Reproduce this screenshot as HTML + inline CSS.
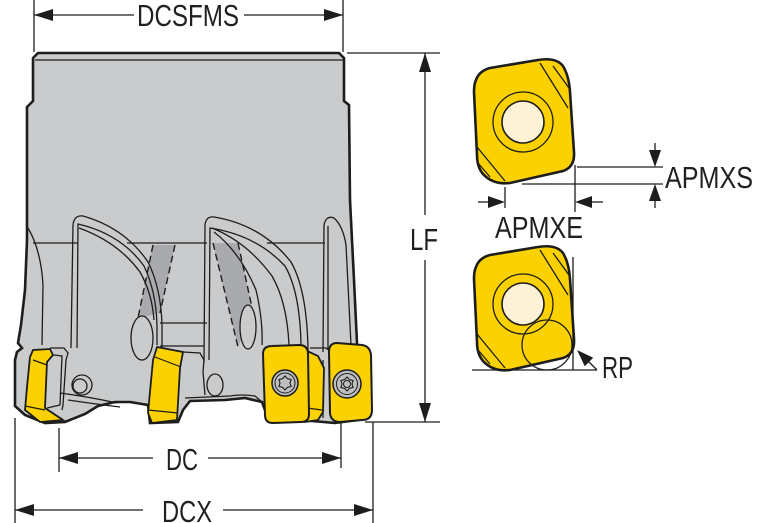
<!DOCTYPE html>
<html><head><meta charset="utf-8"><style>
html,body{margin:0;padding:0;background:#fff;width:767px;height:523px;overflow:hidden}
svg{display:block}
text{font-family:"Liberation Sans",Arial,sans-serif;fill:#231f20}
</style></head><body>
<svg width="767" height="523" viewBox="0 0 767 523" xmlns="http://www.w3.org/2000/svg">
<g stroke="#1d1d1b" fill="none">
<!-- BODY -->
<path d="M38,53 L339,53 L344,58 L344,101 L349,105 L350,200 L354,280 L357,343 L358,420 L335,423 L300,420 L275,420 L265,410 L262,402 L245,398 L225,400 L190,401 L183,410 L178,422 L150,423 L148,405 L130,402 L115,402 L98,406 L85,414 L65,422 L45,423 L25,415 L15,406 L15,360 L17,352 L22,348 L18,343 L21,325 L25,290 L27,240 L27,107 L33,101 L33,58 Z" fill="#c9cbcc" stroke-width="2.6"/>
<line x1="35" y1="60" x2="343" y2="60" stroke-width="1.2"/>
<!-- gray bands -->
<polygon points="153,245 175,245 160,313 138,318" fill="#a8aaad" stroke="none"/>
<polygon points="213,243 238,243 253,312 238,347" fill="#a8aaad" stroke="none"/>
<g stroke-width="1.4" stroke-dasharray="7,4">
<line x1="153" y1="245" x2="138" y2="318"/><line x1="175" y1="245" x2="160" y2="313"/>
<line x1="213" y1="243" x2="238" y2="347"/><line x1="238" y1="243" x2="253" y2="312"/>
</g>
<g stroke-width="1.3">
<path d="M28,228 Q41,250 43,285 L42,345"/>
<line x1="33" y1="243" x2="78" y2="243"/><line x1="127" y1="243" x2="207" y2="243"/><line x1="267" y1="243" x2="325" y2="243"/>
<!-- flute 1 -->
<path d="M71,348 L73,225 Q74,215 83,216 Q125,228 148,262 Q161,288 162,325 L162,362"/>
<path d="M77,348 L78,224 Q121,234 144,266 Q156,291 157,325 L157,345"/>
<path d="M79,228 Q118,242 140,272 Q152,293 154,320"/>
<line x1="160" y1="323" x2="207" y2="323"/><line x1="160" y1="346" x2="204" y2="346"/>
<!-- flute 2 -->
<path d="M204,362 L205,225 Q206,216 214,217 Q262,225 291,262 Q307,290 308,350"/>
<path d="M209,360 L210,228 Q256,235 285,266 Q300,292 301,345"/>
<path d="M212,228 Q247,242 272,276 Q287,302 289,345"/>
<path d="M214,232 Q240,252 256,290 Q263,320 262,345"/>
<!-- flute 3 -->
<path d="M323,352 L324,225 Q326,215 334,218 Q343,226 346,245 L351,345"/>
<line x1="328" y1="226" x2="328" y2="350"/>
<!-- ellipses/holes -->
<ellipse cx="142" cy="338" rx="11" ry="22" fill="#c9cbcc"/>
<ellipse cx="248" cy="327" rx="8" ry="22" fill="#c9cbcc"/>
<circle cx="82" cy="385" r="10"/><circle cx="80" cy="386" r="7"/>
<ellipse cx="215" cy="385" rx="8" ry="11"/>
<!-- pockets & bottom lines -->
<path d="M50,348 L64,348 L68,353 L66,360 L63,405 L62,410"/>
<path d="M54,355 L62,356 L60,405 L47,408"/>
<path d="M60,393 Q90,397 117,403"/>
<path d="M68,400 Q95,404 120,407"/>
<path d="M183,352 L200,353 L204,360 L203,372 L205,395"/>
<path d="M185,398 L230,396 Q242,394 255,396 L262,402"/>
<path d="M310,348 L326,348 L331,352 L331,418"/>
<line x1="323" y1="360" x2="323" y2="418"/>
</g>
<!-- insert 1 -->
<polygon points="33,350 50,349 53,355 47,362 45,408 63,420 40,422 25,410 27,387 30,357" fill="#fcd100" stroke-width="1.8"/>
<line x1="33" y1="360" x2="47" y2="365" stroke-width="1.2"/>
<line x1="25" y1="406" x2="45" y2="410" stroke-width="1.2"/>
<!-- insert 2 -->
<polygon points="157,347 183,352 180,368 177,420 152,423 148,413 153,360" fill="#fcd100" stroke-width="1.8"/>
<line x1="155" y1="357" x2="181" y2="367" stroke-width="1.2"/>
<line x1="148" y1="410" x2="178" y2="413" stroke-width="1.2"/>
<!-- insert 3 facet + insert -->
<path d="M305,350 L318,356 L324,368 L323,412 L318,420 L305,422 Z" fill="#fcd100" stroke-width="1.8"/>
<line x1="307" y1="408" x2="322" y2="410" stroke-width="1.2"/>
<path d="M272,346 L299,345 Q308,345 308,354 L309,414 Q309,422 301,422 L273,423 Q265,423 265,415 L263,354 Q263,346 272,346 Z" fill="#fcd100" stroke-width="2"/>
<circle cx="285" cy="383" r="13" fill="#bdbfc1" stroke-width="1.5"/>
<circle cx="285" cy="383" r="10" stroke-width="1"/>
<polygon points="285,376 287.5,378.7 291.1,379.5 290,383 291.1,386.5 287.5,387.3 285,390 282.5,387.3 278.9,386.5 280,383 278.9,379.5 282.5,378.7" stroke-width="1.1"/>
<!-- insert 4 -->
<path d="M337,343 L362,345 Q370,346 371,355 L372,410 Q372,420 362,420 L340,422 Q331,422 330,413 L329,352 Q329,343 337,343 Z" fill="#fcd100" stroke-width="2"/>
<circle cx="347" cy="384" r="14" fill="#bdbfc1" stroke-width="1.5"/>
<circle cx="347" cy="384" r="10.5" stroke-width="1"/>
<polygon points="347,377 349.5,379.7 353.1,380.5 352,384 353.1,387.5 349.5,388.3 347,391 344.5,388.3 340.9,387.5 342,384 340.9,380.5 344.5,379.7" stroke-width="1.1"/>
<circle cx="347" cy="384" r="3.5" stroke-width="1"/>

<!-- DIMENSIONS -->
<g stroke-width="1.3">
<line x1="34" y1="0" x2="34" y2="52"/><line x1="343" y1="0" x2="343" y2="52"/>
<line x1="34" y1="15" x2="134" y2="15"/><line x1="244" y1="15" x2="343" y2="15"/>
<line x1="347" y1="53" x2="440" y2="53"/>
<line x1="365" y1="422" x2="440" y2="422"/>
<line x1="425" y1="53" x2="425" y2="215"/><line x1="425" y1="260" x2="425" y2="422"/>
<line x1="59" y1="428" x2="59" y2="472"/><line x1="341" y1="423" x2="341" y2="468"/>
<line x1="59" y1="458" x2="153" y2="458"/><line x1="208" y1="458" x2="341" y2="458"/>
<line x1="15" y1="418" x2="15" y2="523"/><line x1="373" y1="422" x2="373" y2="523"/>
<line x1="15" y1="510" x2="143" y2="510"/><line x1="223" y1="510" x2="373" y2="510"/>
</g>
<g fill="#1d1d1b" stroke="none">
<polygon points="34,15 53,9 53,21"/><polygon points="343,15 324,9 324,21"/>
<polygon points="425,53 419,72 431,72"/><polygon points="425,422 419,403 431,403"/>
<polygon points="59,458 78,452 78,464"/><polygon points="341,458 322,452 322,464"/>
<polygon points="15,510 34,504 34,516"/><polygon points="373,510 354,504 354,516"/>
</g>

<!-- RIGHT INSERT A -->
<path d="M476,80 Q479,71 490,68 L538,60 Q556,57 563,66 Q569,76 570,92 L574,152 Q575,167 563,171 L510,183 Q493,185 483,174 Q477,167 477,155 L474,92 Q474,84 476,80 Z" fill="#fcd100" stroke-width="2.6"/>
<g stroke-width="1.3">
<line x1="540" y1="63" x2="568" y2="108"/><line x1="553" y1="66" x2="569" y2="88"/>
<line x1="477" y1="147" x2="505" y2="181"/><line x1="478" y1="163" x2="490" y2="177"/>
<circle cx="523" cy="122" r="30"/>
<circle cx="523" cy="122" r="21" fill="#fdf1d6" stroke-width="1.6"/>
</g>
<!-- APMXS / APMXE -->
<g stroke-width="1.3">
<line x1="577" y1="167" x2="663" y2="167"/><line x1="522" y1="184" x2="663" y2="184"/>
<line x1="655" y1="143" x2="655" y2="152"/><line x1="655" y1="199" x2="655" y2="208"/>
<line x1="505" y1="187" x2="505" y2="208"/><line x1="575" y1="165" x2="575" y2="212"/>
<line x1="478" y1="202" x2="490" y2="202"/><line x1="590" y1="202" x2="603" y2="202"/>
</g>
<g fill="#1d1d1b" stroke="none">
<polygon points="655,167 649,150 661,150"/><polygon points="655,184 649,201 661,201"/>
<polygon points="505,202 488,196 488,208"/><polygon points="575,202 592,196 592,208"/>
</g>

<!-- RIGHT INSERT B -->
<g transform="translate(0,187)">
<path d="M476,80 Q479,71 490,68 L538,60 Q556,57 563,66 Q569,76 570,92 L574,152 Q575,167 563,171 L510,183 Q493,185 483,174 Q477,167 477,155 L474,92 Q474,84 476,80 Z" fill="#fcd100" stroke-width="2.6"/>
<g stroke-width="1.3">
<line x1="540" y1="63" x2="568" y2="108"/><line x1="553" y1="66" x2="569" y2="88"/>
<line x1="477" y1="147" x2="505" y2="181"/><line x1="478" y1="163" x2="490" y2="177"/>
<circle cx="523" cy="117" r="30"/>
<circle cx="523" cy="117" r="21" fill="#fdf1d6" stroke-width="1.6"/>
</g>
</g>
<g stroke-width="1.3">
<circle cx="547" cy="345" r="25"/>
<line x1="573" y1="257" x2="573" y2="370"/>
<line x1="472" y1="370" x2="597" y2="370"/>
<line x1="597" y1="370" x2="588" y2="361"/>
</g>
<polygon points="577,350 593.2,357.8 584.8,366.2" fill="#1d1d1b" stroke="none"/>
</g>

<!-- TEXT -->
<g font-size="31">
<text x="137" y="26" textLength="102" lengthAdjust="spacingAndGlyphs">DCSFMS</text>
<text x="410" y="250" textLength="28" lengthAdjust="spacingAndGlyphs">LF</text>
<text x="166" y="470" textLength="32" lengthAdjust="spacingAndGlyphs">DC</text>
<text x="162" y="522" textLength="50" lengthAdjust="spacingAndGlyphs">DCX</text>
<text x="665" y="188" textLength="88" lengthAdjust="spacingAndGlyphs">APMXS</text>
<text x="495" y="238" textLength="88" lengthAdjust="spacingAndGlyphs">APMXE</text>
<text x="602" y="378" textLength="31" lengthAdjust="spacingAndGlyphs">RP</text>
</g>
</svg>
</body></html>
